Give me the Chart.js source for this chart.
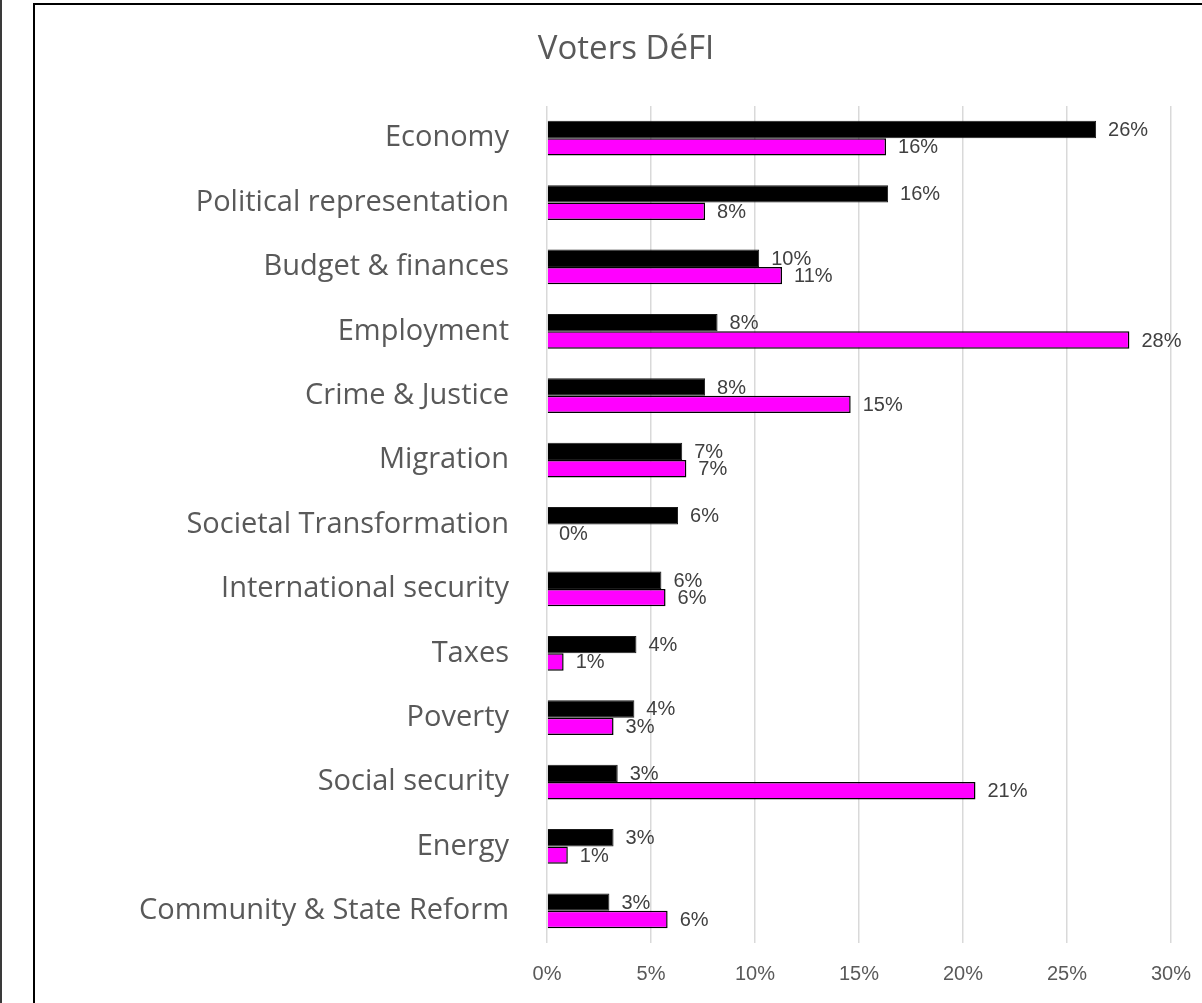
<!DOCTYPE html>
<html lang="en">
<head>
    <meta charset="UTF-8">
    <title>Voters DéFI</title>
    <script src="https://cdn.jsdelivr.net/npm/chart.js@4.4.1/dist/chart.umd.min.js"></script>
    <style>
        html, body { margin: 0; padding: 0; background: #fff; overflow: hidden; }
        #leftEdge { position: absolute; left: 0; top: 0; width: 2px; height: 1003px; background: #3a3a3a; }
        #frame { position: absolute; left: 33px; top: 3px; width: 1200px; height: 1020px; border: 2px solid #000; box-sizing: border-box; }
        #wrap { position: absolute; left: 0; top: 0; width: 1210px; height: 1003px; }
    </style>
</head>
<body>
<div id="leftEdge"></div>
<div id="frame"></div>
<div id="wrap">
    <canvas id="myChart"></canvas>
</div>
<script>
    // data (percent)
    var categories = ['Economy', 'Political representation', 'Budget & finances', 'Employment',
        'Crime & Justice', 'Migration', 'Societal Transformation', 'International security',
        'Taxes', 'Poverty', 'Social security', 'Energy', 'Community & State Reform'];
    var seriesBlack = [26.4, 16.4, 10.2, 8.2, 7.6, 6.5, 6.3, 5.5, 4.3, 4.2, 3.4, 3.2, 3.0];
    var seriesMagenta = [16.3, 7.6, 11.3, 28.0, 14.6, 6.7, 0, 5.7, 0.8, 3.2, 20.6, 1.0, 5.8];
    var xTicks = [0, 5, 10, 15, 20, 25, 30];
    var chartTitle = 'Voters DéFI';

    Chart.defaults.font.family = '"Liberation Sans", Arial, sans-serif';

    // simple data labels, right of each bar end
    var barLabels = {
        id: 'barLabels',
        afterDatasetsDraw: function (chart) {
            var ctx = chart.ctx;
            ctx.save();
            ctx.font = '20px "Liberation Sans", Arial, sans-serif';
            ctx.fillStyle = '#404040';
            ctx.textAlign = 'left';
            ctx.textBaseline = 'middle';
            chart.data.datasets.forEach(function (ds, i) {
                chart.getDatasetMeta(i).data.forEach(function (bar, j) {
                    ctx.fillText(Math.round(ds.data[j]) + '%', bar.x + 12, bar.y + 1);
                });
            });
            ctx.restore();
        }
    };

    // title drawn by hand so it sits where the original one is
    var topTitle = {
        id: 'topTitle',
        afterDraw: function (chart) {
            var ctx = chart.ctx;
            ctx.save();
            ctx.font = '33px "Open Sans", sans-serif';
            ctx.fillStyle = '#595959';
            ctx.textAlign = 'center';
            ctx.textBaseline = 'alphabetic';
            ctx.fillText(chartTitle, 626, 59);
            ctx.restore();
        }
    };

    var ctx = document.getElementById('myChart').getContext('2d');
    var chart = new Chart(ctx, {
        type: 'bar',
        data: {
            labels: categories,
            datasets: [{
                label: 'Black',
                data: seriesBlack,
                backgroundColor: '#000000',
                borderColor: '#1a1a1a',
                borderWidth: 1
            }, {
                label: 'Magenta',
                data: seriesMagenta,
                backgroundColor: '#ff00ff',
                borderColor: '#000000',
                borderWidth: 1.5
            }]
        },
        options: {
            indexAxis: 'y',
            responsive: true,
            maintainAspectRatio: false,
            animation: false,
            layout: { padding: { left: 0, right: 23, top: 106, bottom: 0 } },
            datasets: { bar: { categoryPercentage: 0.54, barPercentage: 1.0 } },
            plugins: {
                legend: { display: false },
                tooltip: { enabled: false },
                title: { display: false }
            },
            scales: {
                x: {
                    min: 0,
                    max: 30,
                    afterBuildTicks: function (scale) {
                        scale.ticks = xTicks.map(function (v) { return { value: v }; });
                    },
                    afterFit: function (scale) { scale.height = 60; },
                    grid: { color: '#d9d9d9', lineWidth: 1.5, drawTicks: false },
                    border: { display: false },
                    ticks: {
                        padding: 19,
                        color: '#595959',
                        font: { size: 20 },
                        callback: function (v) { return v + '%'; }
                    }
                },
                y: {
                    afterFit: function (scale) { scale.width = 547; },
                    grid: { display: false },
                    border: { display: false },
                    ticks: {
                        padding: 30,
                        color: '#595959',
                        font: { size: 29, family: '"Open Sans", sans-serif' }
                    }
                }
            }
        },
        plugins: [barLabels, topTitle]
    });
</script>
</body>
</html>
